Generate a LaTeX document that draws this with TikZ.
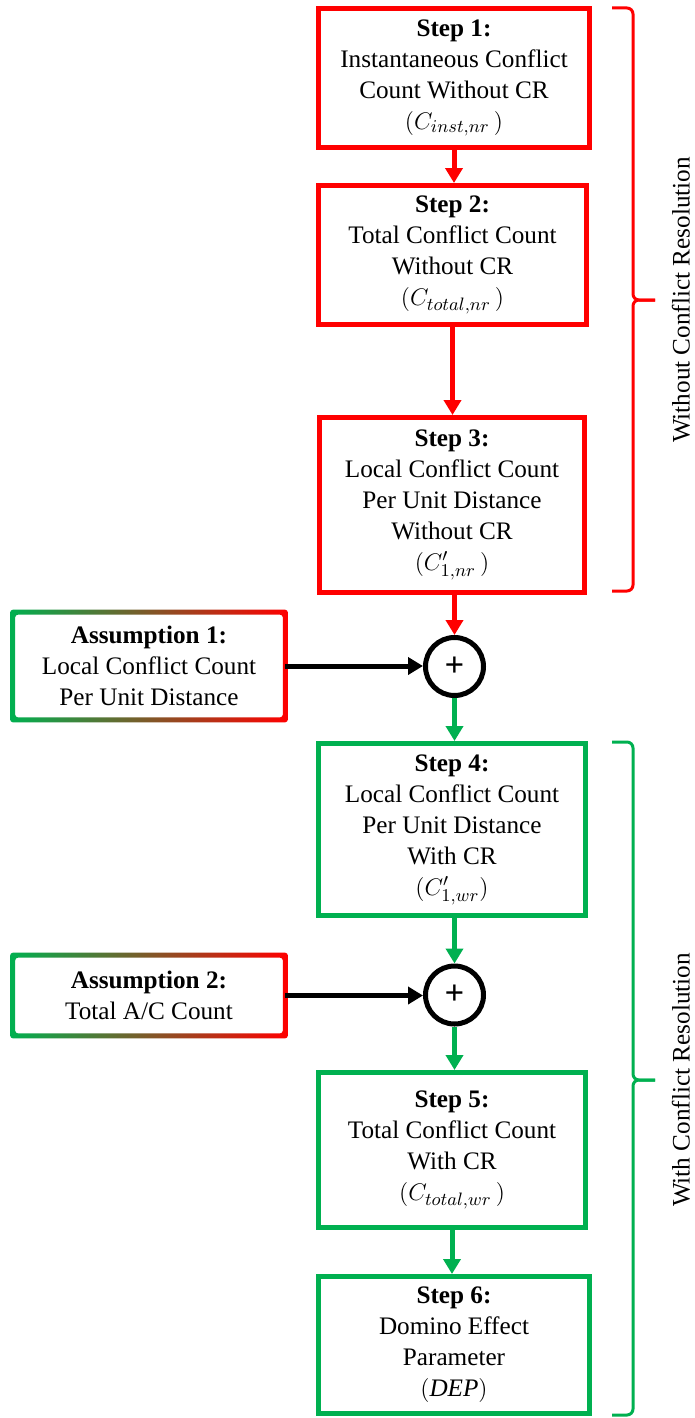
\documentclass[tikz,border=0pt]{standalone}
\usepackage{fontspec}
\setmainfont{Liberation Serif}
\usetikzlibrary{arrows.meta}

\definecolor{crgreen}{RGB}{0,176,80}
\definecolor{crred}{RGB}{255,0,0}

\begin{document}
\begin{tikzpicture}[x=0.5pt,y=-0.5pt,
        font=\rmfamily\fontsize{12.6}{15.5}\selectfont,
        stepbox/.style={draw,line width=2.5pt,align=center,inner sep=0pt},
        redbox/.style={stepbox,draw=crred},
        greenbox/.style={stepbox,draw=crgreen},
        mixbox/.style={align=center,inner sep=0pt,minimum width=136pt},
        sumnode/.style={circle,draw,line width=2.5pt,minimum size=29pt,inner sep=0pt,font=\bfseries\LARGE},
        flow/.style={line width=2.5pt,-{Triangle[width=8.5pt,length=7.5pt]}},
        bracket/.style={line width=1.5pt,rounded corners=3pt}]
    \useasboundingbox (0,0) rectangle (695,1418);

    % steps without conflict resolution
    \node[redbox,minimum width=135.5pt,minimum height=69.5pt] (s1) at (454,78)
        {\textbf{Step 1:}\\Instantaneous Conflict\\Count Without CR\\$(C_{inst,nr}\,)$};
    \node[redbox,minimum width=134pt,minimum height=69.5pt] (s2) at (452.5,255)
        {\textbf{Step 2:}\\Total Conflict Count\\Without CR\\$(C_{total,nr}\,)$};
    \node[redbox,minimum width=132.5pt,minimum height=87.5pt] (s3) at (452,505)
        {\textbf{Step 3:}\\Local Conflict Count\\Per Unit Distance\\Without CR\\$(C'_{1,nr}\,)$};

    % first sum with assumption 1
    \node[sumnode] (p1) at (454.5,666.5) {+};
    \node[mixbox,minimum height=53.5pt] (a1) at (149,666)
        {\textbf{Assumption 1:}\\Local Conflict Count\\Per Unit Distance};
    \shade[left color=crgreen,right color=crred,even odd rule,rounded corners=1.5pt]
        ([shift={(-1.25pt,1.25pt)}]a1.north west) rectangle ([shift={(1.25pt,-1.25pt)}]a1.south east)
        ([shift={(1.25pt,-1.25pt)}]a1.north west) rectangle ([shift={(-1.25pt,1.25pt)}]a1.south east);

    % steps with conflict resolution
    \node[greenbox,minimum width=133.5pt,minimum height=86pt] (s4) at (452,829.5)
        {\textbf{Step 4:}\\Local Conflict Count\\Per Unit Distance\\With CR\\$(C'_{1,wr})$};

    \node[sumnode] (p2) at (454.5,995) {+};
    \node[mixbox,minimum height=40pt] (a2) at (149,995.5)
        {\textbf{Assumption 2:}\\Total A/C Count};
    \shade[left color=crgreen,right color=crred,even odd rule,rounded corners=1.5pt]
        ([shift={(-1.25pt,1.25pt)}]a2.north west) rectangle ([shift={(1.25pt,-1.25pt)}]a2.south east)
        ([shift={(1.25pt,-1.25pt)}]a2.north west) rectangle ([shift={(-1.25pt,1.25pt)}]a2.south east);

    \node[greenbox,minimum width=133.5pt,minimum height=77.5pt] (s5) at (452,1150)
        {\textbf{Step 5:}\\Total Conflict Count\\With CR\\$(C_{total,wr}\,)$};
    \node[greenbox,minimum width=135.5pt,minimum height=68.5pt] (s6) at (454,1345)
        {\textbf{Step 6:}\\Domino Effect\\Parameter\\$(\mathit{DEP})$};

    % arrows
    \draw[flow,crred] (s1.south) -- (s1.south |- s2.north);
    \draw[flow,crred] (s2.south) -- (s2.south |- s3.north);
    \draw[flow,crred] (p1 |- s3.south) -- (p1.north);
    \draw[flow] (a1.east) -- (a1.east -| p1.west);
    \draw[flow,crgreen] (p1.south) -- (p1 |- s4.north);
    \draw[flow,crgreen] (p2 |- s4.south) -- (p2.north);
    \draw[flow] (a2.east) -- (a2.east -| p2.west);
    \draw[flow,crgreen] (p2.south) -- (p2 |- s5.north);
    \draw[flow,crgreen] (s5.south) -- (s5.south |- s6.north);

    % brackets on the right
    \draw[bracket,crred] (612,8) -- (633,8) -- (633,300) -- (655,300);
    \draw[bracket,crred] (655,300) -- (633,300) -- (633,591) -- (612,591);
    \node[rotate=90] (lblnr) at (681,300) {Without Conflict Resolution};

    \draw[bracket,crgreen] (612,742) -- (633,742) -- (633,1080) -- (655,1080);
    \draw[bracket,crgreen] (655,1080) -- (633,1080) -- (633,1415) -- (612,1415);
    \node[rotate=90] (lblwr) at (681,1080) {With Conflict Resolution};
\end{tikzpicture}
\end{document}
